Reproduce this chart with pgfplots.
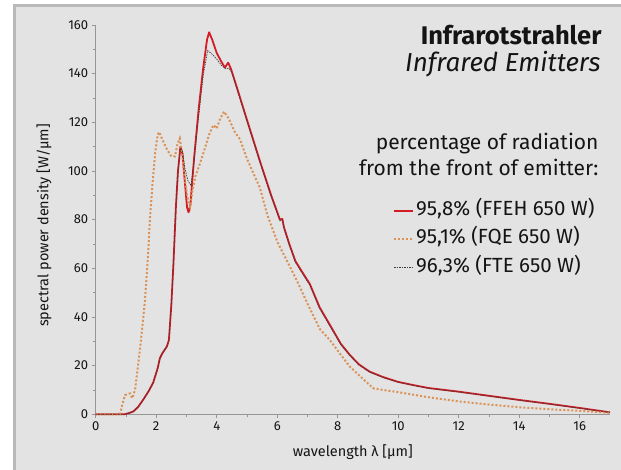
\documentclass[border=0pt]{standalone}
\usepackage{pgfplots}
\pgfplotsset{compat=1.18}
\usepackage{fontspec}
\setmainfont{Fira Sans}
\definecolor{panel}{RGB}{227,227,227}
\definecolor{framec}{RGB}{185,185,185}
\definecolor{redline}{RGB}{212,28,36}
\definecolor{orangeline}{RGB}{218,146,86}
\definecolor{fte}{RGB}{60,60,60}
\definecolor{axisgray}{RGB}{150,150,150}
\definecolor{txt}{RGB}{20,20,20}
\begin{document}
\begin{tikzpicture}[x=1pt,y=1pt]
\useasboundingbox (0,0) rectangle (621,470);
\fill[white] (0,0) rectangle (621,470);
\fill[panel] (13,-5) rectangle (630,466);
\draw[framec, line width=3pt] (14.5,-5) -- (14.5,464.5) -- (630,464.5);
\begin{axis}[
  at={(95.7pt,55.7pt)}, anchor=south west,
  width=514.3pt, height=389.3pt, scale only axis,
  xmin=0, xmax=17, ymin=0, ymax=160,
  axis x line*=bottom, axis y line*=left,
  axis line style={axisgray, line width=0.8pt},
  xtick={0,2,...,16}, ytick={0,20,...,160},
  minor x tick num=1, minor y tick num=1,
  tick align=outside, major tick length=4pt, minor tick length=3pt,
  every tick/.style={axisgray, line width=0.6pt},
  every minor tick/.style={axisgray, line width=0.6pt},
  /pgf/number format/assume math mode=true,
  tick label style={font=\fontsize{13}{13}\selectfont, text=txt},
  xlabel={wavelength λ [µm]},
  ylabel={spectral power density [W/µm]},
  label style={text=txt},
  x label style={font=\fontsize{14.5}{14.5}\selectfont, at={(axis description cs:0.5,-0.0968)}, anchor=center},
  y label style={font=\fontsize{14.5}{14.5}\selectfont, at={(axis description cs:-0.1005,0.485)}, anchor=center},
  clip=false,
  legend style={at={(axis description cs:0.578,0.548)}, anchor=north west,
    draw=none, fill=none, inner sep=0pt, row sep=9.5pt,
    font=\fontsize{20.5}{20.5}\selectfont, text=txt,
    nodes={inner xsep=2pt, inner ysep=0pt, text height=14pt, text depth=5pt}},
  legend cell align=left,
  legend image code/.code={\draw[#1] (0pt,0pt) -- (19pt,0pt);},
]
\addplot[redline, line width=1.8pt, line join=round] coordinates {
(0,0) (0.95,0) (1.1,0.5) (1.25,1.2) (1.4,3) (1.57,6) (1.75,9.5) (1.9,13) (2.05,19) (2.12,23) (2.2,25) (2.35,27.8) (2.42,30.5) (2.5,45) (2.57,62) (2.65,85) (2.72,100) (2.8,110) (2.87,107) (2.95,95) (3.02,85) (3.07,83) (3.13,86) (3.25,105) (3.4,125) (3.55,142) (3.68,154) (3.75,157) (3.85,154) (4.0,148.5) (4.15,145) (4.27,142.5) (4.38,144.5) (4.47,142) (4.66,134.6) (5.0,121) (5.43,104) (5.8,90) (6.09,80) (6.17,80.3) (6.22,77) (6.4,70) (6.6,63) (6.8,59) (7.08,53.5) (7.4,44) (7.8,35.5) (8.1,29) (8.4,24.4) (8.7,20.5) (9.06,17.5) (9.5,15.3) (10,13.3) (10.5,12) (11,10.8) (12,9.3) (13,7.6) (14,5.9) (15,4.3) (16,2.6) (17,0.8)
};
\addlegendentry{95,8\% (FFEH 650 W)}
\addplot[orangeline, line width=2pt, dash pattern=on 2pt off 2pt] coordinates {
(0,0) (0.8,0) (0.88,4) (0.97,7.9) (1.13,8.6) (1.21,6.6) (1.3,10) (1.38,18) (1.46,26.4) (1.55,37) (1.63,47) (1.74,67.6) (1.79,80) (1.88,95) (1.97,108) (2.05,115) (2.1,116) (2.2,113) (2.35,109) (2.5,106) (2.62,106) (2.7,111) (2.78,113.4) (2.85,108) (2.95,96) (3.05,88) (3.12,85.3) (3.2,92) (3.3,98) (3.45,103.2) (3.6,109) (3.75,115) (3.89,118.9) (4.0,117.5) (4.1,121) (4.24,124.4) (4.4,121.5) (4.6,116) (4.77,113) (5.0,105) (5.43,93) (5.67,82) (6.0,71) (6.64,55.2) (7.0,45.5) (7.41,35) (7.74,30.5) (8.1,24.5) (8.4,19.6) (8.75,15.5) (9.06,12) (9.17,10.7) (9.5,10) (10,9.1) (11,7.0) (12,5.3) (13,4.0) (14,2.9) (15,2.1) (16,1.4) (17,0.6)
};
\addlegendentry{95,1\% (FQE 650 W)}
\addplot[fte, line width=0.7pt, dash pattern=on 1.5pt off 1pt] coordinates {
(0,0) (0.95,0) (1.1,0.5) (1.25,1.2) (1.4,3) (1.57,6) (1.75,9.5) (1.9,13) (2.05,19) (2.12,23) (2.2,25) (2.35,27.8) (2.42,30.5) (2.5,45) (2.57,62) (2.65,85) (2.72,100) (2.8,109) (2.87,108) (2.95,101) (3.05,96) (3.15,94) (3.25,104) (3.4,122) (3.55,139) (3.7,149.5) (3.85,148) (4.0,146) (4.15,143.5) (4.3,142) (4.4,142.3) (4.5,140.5) (4.66,134) (5.0,120.5) (5.43,103.5) (5.8,89.5) (6.09,79.5) (6.17,79.8) (6.22,76.5) (6.4,69.5) (6.6,62.5) (6.8,58.5) (7.08,53) (7.4,43.5) (7.8,35) (8.1,28.7) (8.4,24.2) (8.7,20.3) (9.06,17.3) (9.5,15.1) (10,13.2) (10.5,11.9) (11,10.7) (12,9.2) (13,7.5) (14,5.8) (15,4.2) (16,2.5) (17,0.8)
};
\addlegendentry{96,3\% (FTE 650 W)}
\end{axis}
\node[anchor=base east, text=txt, font=\fontsize{25.5}{25.5}\selectfont\bfseries] at (605,425) {Infrarotstrahler};
\node[anchor=base east, text=txt, font=\fontsize{26}{26}\selectfont\itshape] at (604,398) {Infrared Emitters};
\node[anchor=base east, text=txt, font=\fontsize{21}{21}\selectfont] at (602,320) {percentage of radiation};
\node[anchor=base east, text=txt, font=\fontsize{21}{21}\selectfont] at (602,294) {from the front of emitter:};
\end{tikzpicture}
\end{document}
